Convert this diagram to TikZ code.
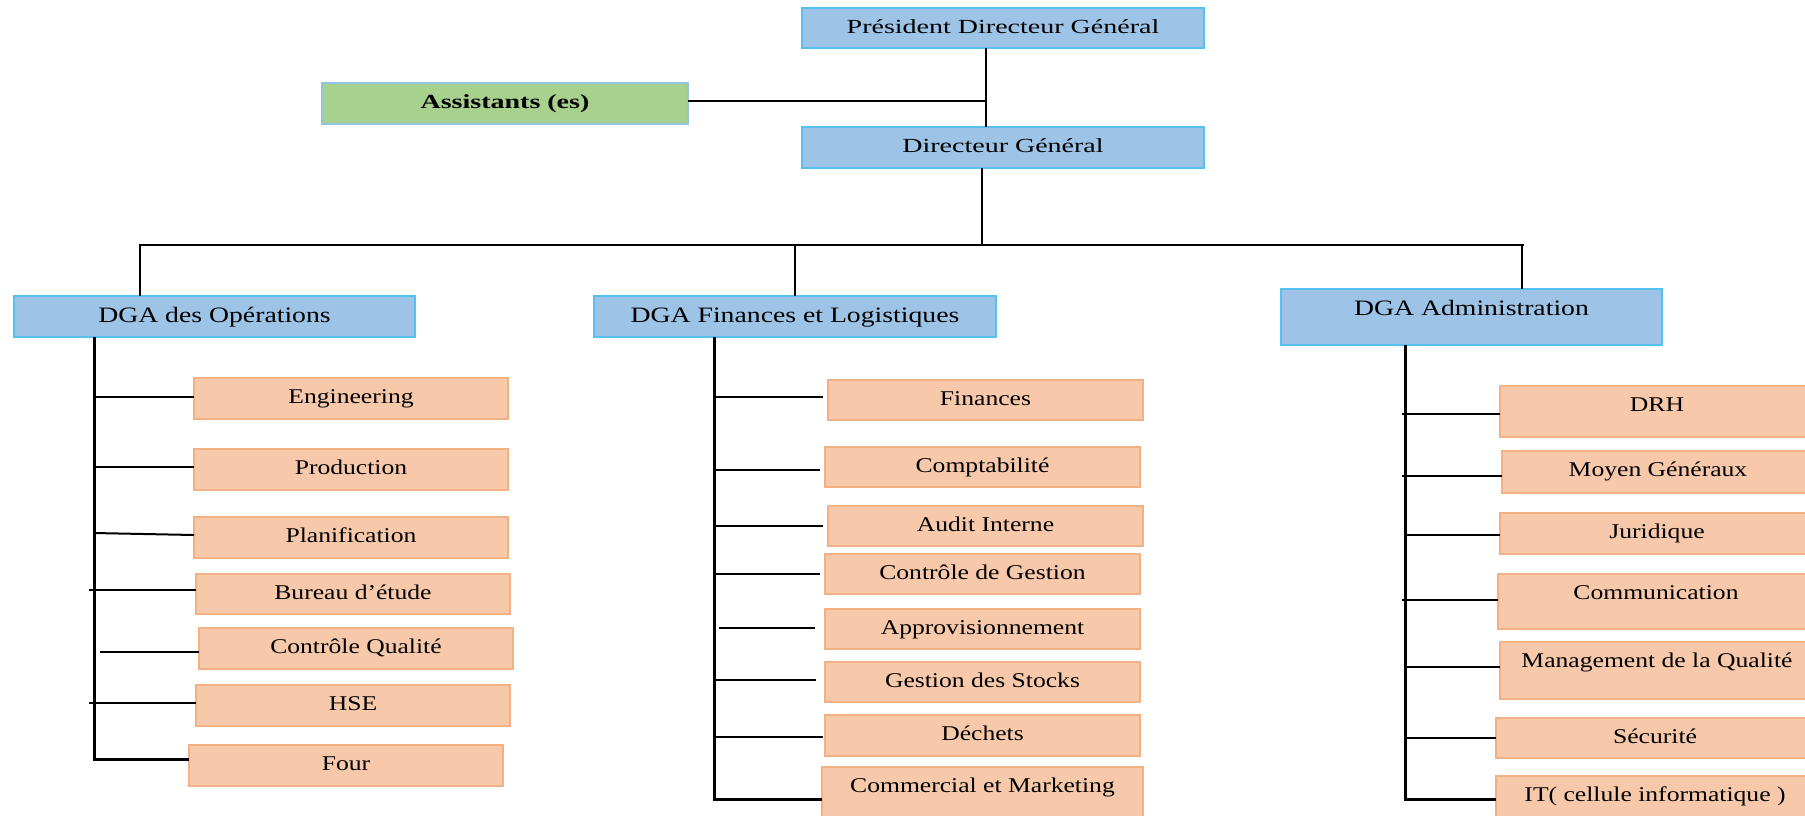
\documentclass[tikz,border=0pt]{standalone}
\usepackage{fontspec}
\setmainfont{Liberation Serif}
\newfontfamily\topf[FakeStretch=1.4]{Liberation Serif}
\newfontfamily\dgaf[FakeStretch=1.26]{Liberation Serif}
\newfontfamily\chf[FakeStretch=1.22]{Liberation Serif}
\usetikzlibrary{fit}
\definecolor{bfill}{HTML}{9DC3E6}
\definecolor{bdraw}{HTML}{56C1EE}
\definecolor{ofill}{HTML}{F7C9AA}
\definecolor{odraw}{HTML}{F2B183}
\definecolor{gfill}{HTML}{A9D18E}
\definecolor{gdraw}{HTML}{93C4DD}
\tikzset{
  boxbase/.style={line width=2pt, inner sep=0pt, outer sep=0pt},
  bluebox/.style={boxbase, draw=bdraw, fill=bfill},
  orbox/.style={boxbase, draw=odraw, fill=ofill},
  grbox/.style={boxbase, draw=gdraw, fill=gfill},
  toptxt/.style={anchor=base, inner sep=0pt, yshift=-25pt, font=\topf\fontsize{20pt}{24pt}\selectfont},
  asttxt/.style={anchor=base, inner sep=0pt, yshift=-25pt, font=\topf\bfseries\fontsize{20pt}{24pt}\selectfont},
  dgatxt/.style={anchor=base, inner sep=0pt, yshift=-26.5pt, font=\dgaf\fontsize{22pt}{26pt}\selectfont},
  admtxt/.style={anchor=base, inner sep=0pt, yshift=-26pt, font=\dgaf\fontsize{22pt}{26pt}\selectfont},
  chtxt/.style={anchor=base, inner sep=0pt, yshift=-25.5pt, font=\chf\fontsize{21pt}{25pt}\selectfont},
  topline/.style={line width=2.5pt, black},
  busline/.style={line width=3pt, black},
  conn/.style={line width=2pt, black},
}
\newcommand{\mkbox}[8]{%
  \coordinate (#3-nw) at (#4,#5);
  \coordinate (#3-se) at (#6,#7);
  \node[#1, fit=(#3-nw)(#3-se)] (#3) {};
  \node[#2] (#3-t) at (#3.north) {#8};
}
\begin{document}
\begin{tikzpicture}[x=1pt,y=-1pt]
\useasboundingbox (0,0) rectangle (1805,815);
\fill[white] (0,0) rectangle (1805,815);
\clip (0,0) rectangle (1805,815);

% top
\mkbox{bluebox}{toptxt}{pdg}{802}{8}{1204}{48}{Président Directeur Général}
\mkbox{grbox}{asttxt}{ast}{322}{83}{688}{124}{Assistants (es)}
\mkbox{bluebox}{toptxt}{dg}{802}{127}{1204}{168}{Directeur Général}

\coordinate (j1) at (986,101);
\draw[topline] (pdg.south -| j1) -- (dg.north -| j1);
\draw[topline] (ast.east |- j1) -- (j1);

% DGA
\mkbox{bluebox}{dgatxt}{ops}{14}{296}{415}{337}{DGA des Opérations}
\mkbox{bluebox}{dgatxt}{fin}{594}{296}{996}{337}{DGA Finances et Logistiques}
\mkbox{bluebox}{admtxt}{adm}{1281}{289}{1662}{345}{DGA Administration}

\coordinate (bus) at (982,245);
\coordinate (busL) at (140,245);
\coordinate (busR) at (1522,245);
\draw[topline] (dg.south -| bus) -- (bus);
\draw[topline] ([xshift=-1.5pt]busL) -- ([xshift=1.5pt]busR);
\draw[topline] (busL) -- (busL |- ops.north);
\draw[topline] (bus -| fin.north) -- (fin.north);
\draw[topline] (busR) -- (busR |- adm.north);

% Operations column
\mkbox{orbox}{chtxt}{eng}{194}{378}{508}{419}{Engineering}
\mkbox{orbox}{chtxt}{prod}{194}{449}{508}{490}{Production}
\mkbox{orbox}{chtxt}{plan}{194}{517}{508}{558}{Planification}
\mkbox{orbox}{chtxt}{bur}{196}{574}{510}{614}{Bureau d’étude}
\mkbox{orbox}{chtxt}{cq}{199}{628}{513}{669}{Contrôle Qualité}
\mkbox{orbox}{chtxt}{hse}{196}{685}{510}{726}{HSE}
\mkbox{orbox}{chtxt}{four}{189}{745}{503}{786}{Four}

\coordinate (opsend) at (94,759);
\draw[busline] (ops.south -| opsend) -- (opsend) -- (opsend -| four.west);
\draw[conn] (opsend |- 0,397) -- (eng.west |- 0,397);
\draw[conn] (opsend |- 0,467) -- (prod.west |- 0,467);
\draw[conn] (opsend |- 0,533) -- (plan.west |- 0,535);
\draw[conn] ([xshift=-5pt]opsend |- 0,590) -- (bur.west |- 0,590);
\draw[conn] ([xshift=5.5pt]opsend |- 0,652) -- (cq.west |- 0,652);
\draw[conn] ([xshift=-5pt]opsend |- 0,703) -- (hse.west |- 0,703);

% Finances column
\mkbox{orbox}{chtxt}{fi}{828}{380}{1143}{420}{Finances}
\mkbox{orbox}{chtxt}{cpt}{825}{447}{1140}{487}{Comptabilité}
\mkbox{orbox}{chtxt}{aud}{828}{506}{1143}{546}{Audit Interne}
\mkbox{orbox}{chtxt}{cdg}{825}{554}{1140}{594}{Contrôle de Gestion}
\mkbox{orbox}{chtxt}{app}{825}{609}{1140}{649}{Approvisionnement}
\mkbox{orbox}{chtxt}{gds}{825}{662}{1140}{702}{Gestion des Stocks}
\mkbox{orbox}{chtxt}{dec}{825}{715}{1140}{756}{Déchets}
\mkbox{orbox}{chtxt}{com}{822}{767}{1143}{830}{Commercial et Marketing}

\coordinate (finend) at (714.7,799);
\draw[busline] (fin.south -| finend) -- (finend) -- (finend -| com.west);
\draw[conn, shorten >=5pt] (finend |- 0,397) -- (fi.west |- 0,397);
\draw[conn, shorten >=5pt] (finend |- 0,470) -- (cpt.west |- 0,470);
\draw[conn, shorten >=5pt] (finend |- 0,526) -- (aud.west |- 0,526);
\draw[conn, shorten >=5pt] (finend |- 0,574) -- (cdg.west |- 0,574);
\draw[conn, shorten <=4pt, shorten >=10pt] (finend |- 0,628) -- (app.west |- 0,628);
\draw[conn, shorten >=9pt] (finend |- 0,680) -- (gds.west |- 0,680);
\draw[conn, shorten >=2pt] (finend |- 0,737) -- (dec.west |- 0,737);

% Administration column
\mkbox{orbox}{chtxt}{drh}{1500}{386}{1814}{437}{DRH}
\mkbox{orbox}{chtxt}{mg}{1502}{451}{1814}{493}{Moyen Généraux}
\mkbox{orbox}{chtxt}{jur}{1500}{513}{1814}{554}{Juridique}
\mkbox{orbox}{chtxt}{cmm}{1498}{574}{1814}{629}{Communication}
\mkbox{orbox}{chtxt}{mq}{1500}{642}{1814}{699}{Management de la Qualité}
\mkbox{orbox}{chtxt}{sec}{1496}{718}{1814}{758}{Sécurité}
\mkbox{orbox}{chtxt}{it}{1496}{776}{1814}{830}{IT( cellule informatique )}

\coordinate (admend) at (1405,799);
\draw[busline] (adm.south -| admend) -- (admend) -- (admend -| it.west);
\draw[conn] ([xshift=-3pt]admend |- 0,414) -- (drh.west |- 0,414);
\draw[conn] ([xshift=-3pt]admend |- 0,476) -- (mg.west |- 0,476);
\draw[conn] (admend |- 0,535) -- (jur.west |- 0,535);
\draw[conn] ([xshift=-3pt]admend |- 0,600) -- (cmm.west |- 0,600);
\draw[conn] (admend |- 0,667) -- (mq.west |- 0,667);
\draw[conn] (admend |- 0,738) -- (sec.west |- 0,738);
\end{tikzpicture}
\end{document}
